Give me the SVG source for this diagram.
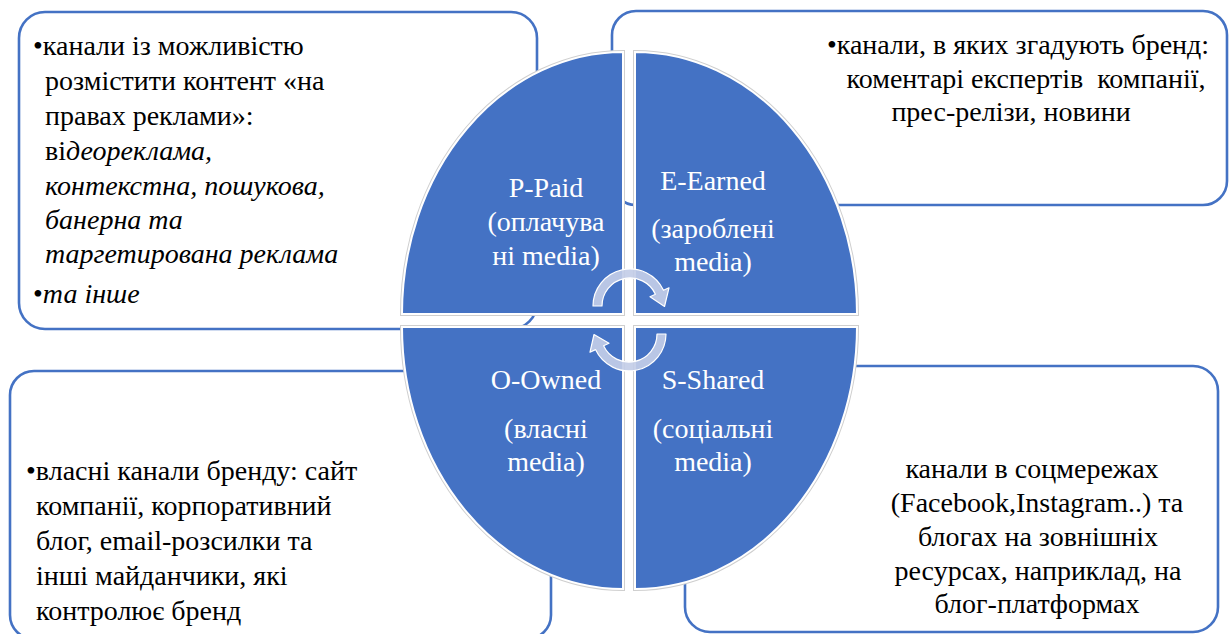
<svg xmlns="http://www.w3.org/2000/svg" xmlns:xlink="http://www.w3.org/1999/xlink" width="1229" height="634" viewBox="0 0 1229 634">
  <style>
    .box { fill: #ffffff; stroke: #4472c4; stroke-width: 2.6; }
    .txt { fill: #000000; font-size: 28px; }
    .it { font-style: italic; }
    .qtxt { fill: #ffffff; text-anchor: middle; font-size: 28px; }
    .quad { fill: #4472c4; }
    .edge { fill: none; stroke: #cfcfcf; stroke-width: 4; }
    .gap { fill: none; stroke: #ffffff; stroke-width: 2; }
    .cyc { fill: #c3cde7; fill-opacity: 0.92; stroke: #ffffff; stroke-width: 1.2; stroke-linejoin: round; }
  </style>
  <defs>
    <!-- four quarters of the central ellipse, each pulled slightly off centre -->
    <path id="qTL" d="M623 314 L402 314 A221 262 0 0 1 623 52 Z"/>
    <path id="qTR" d="M635 314 L635 52 A222 262 0 0 1 857 314 Z"/>
    <path id="qBL" d="M623 327 L623 589 A221 262 0 0 1 402 327 Z"/>
    <path id="qBR" d="M635 327 L857 327 A222 262 0 0 1 635 589 Z"/>
  </defs>

  <g font-family="'Liberation Serif', 'Times New Roman', serif">
  <!-- description boxes -->
  <g id="box-paid">
    <rect class="box" x="19" y="12" width="518" height="317" rx="26"/>
    <text class="txt" x="33" y="55">•канали із можливістю</text>
    <text class="txt" x="45" y="90">розмістити контент «на</text>
    <text class="txt" x="45" y="125">правах реклами»:</text>
    <text class="txt" x="45" y="160">ві<tspan class="it">деореклама,</tspan></text>
    <text class="txt it" x="45" y="195">контекстна, пошукова,</text>
    <text class="txt it" x="45" y="229">банерна та</text>
    <text class="txt it" x="45" y="263">таргетирована реклама</text>
    <text class="txt" x="33" y="303">•<tspan class="it">та інше</tspan></text>
  </g>

  <g id="box-earned">
    <rect class="box" x="612" y="11" width="615" height="194" rx="24"/>
    <text class="txt" x="1018" y="54" text-anchor="middle">•канали, в яких згадують бренд:</text>
    <text class="txt" x="1026" y="88" text-anchor="middle">коментарі експертів&#160; компанії,</text>
    <text class="txt" x="1011" y="121" text-anchor="middle">прес-релізи, новини</text>
  </g>

  <g id="box-owned">
    <rect class="box" x="10" y="371" width="541" height="268" rx="24"/>
    <text class="txt" x="26" y="480">•власні канали бренду: сайт</text>
    <text class="txt" x="36" y="515">компанії, корпоративний</text>
    <text class="txt" x="36" y="550">блог, email-розсилки та</text>
    <text class="txt" x="36" y="585">інші майданчики, які</text>
    <text class="txt" x="36" y="620">контролює бренд</text>
  </g>

  <g id="box-shared">
    <rect class="box" x="685" y="366" width="533" height="266" rx="25"/>
    <text class="txt" x="1032" y="478" text-anchor="middle">канали в соцмережах</text>
    <text class="txt" x="1037" y="512" text-anchor="middle">(Facebook,Instagram..) та</text>
    <text class="txt" x="1038" y="546" text-anchor="middle">блогах на зовнішніх</text>
    <text class="txt" x="1038" y="580" text-anchor="middle">ресурсах, наприклад, на</text>
    <text class="txt" x="1037" y="613" text-anchor="middle">блог-платформах</text>
  </g>

  <!-- central PESO ellipse -->
  <g id="quad-paid">
    <use xlink:href="#qTL" class="edge"/>
    <use xlink:href="#qTL" class="quad"/>
    <use xlink:href="#qTL" class="gap"/>
    <text class="qtxt" x="546" y="197">P-Paid</text>
    <text class="qtxt" x="546" y="231">(оплачува</text>
    <text class="qtxt" x="546" y="265">ні media)</text>
  </g>
  <g id="quad-earned">
    <use xlink:href="#qTR" class="edge"/>
    <use xlink:href="#qTR" class="quad"/>
    <use xlink:href="#qTR" class="gap"/>
    <text class="qtxt" x="713" y="190">E-Earned</text>
    <text class="qtxt" x="713" y="238">(зароблені</text>
    <text class="qtxt" x="713" y="271">media)</text>
  </g>
  <g id="quad-owned">
    <use xlink:href="#qBL" class="edge"/>
    <use xlink:href="#qBL" class="quad"/>
    <use xlink:href="#qBL" class="gap"/>
    <text class="qtxt" x="546" y="389">O-Owned</text>
    <text class="qtxt" x="546" y="438">(власні</text>
    <text class="qtxt" x="546" y="471">media)</text>
  </g>
  <g id="quad-shared">
    <use xlink:href="#qBR" class="edge"/>
    <use xlink:href="#qBR" class="quad"/>
    <use xlink:href="#qBR" class="gap"/>
    <text class="qtxt" x="713" y="389">S-Shared</text>
    <text class="qtxt" x="713" y="438">(соціальні</text>
    <text class="qtxt" x="713" y="471">media)</text>
  </g>
  </g>

  <!-- cycle arrows in the middle -->
  <g id="connectors">
    <path class="cyc" d="M593 306 A37 37 0 0 1 663.5 290.3 L669 287.8 L664.5 306.5 L650 296.7 L655.4 294.2 A28 28 0 0 0 602 306 Z"/>
    <path class="cyc" d="M666 334 A37 37 0 0 1 595.5 349.6 L590 352.2 L594 334.5 L609 343.3 L603.6 345.8 A28 28 0 0 0 657 334 Z"/>
  </g>
</svg>
